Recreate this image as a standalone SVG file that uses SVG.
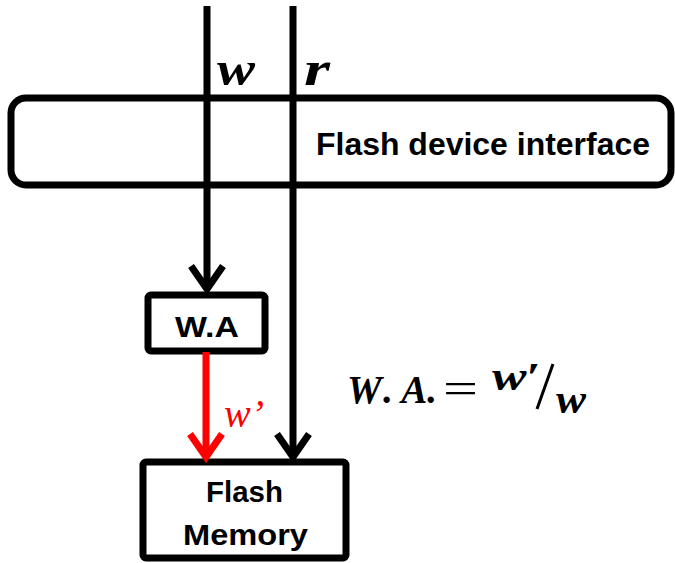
<svg xmlns="http://www.w3.org/2000/svg" width="675" height="563" viewBox="0 0 675 563">
<style>
.box{fill:#fff;stroke:#000;stroke-width:7}
.ln{stroke:#000;stroke-width:7;fill:none}
.lbl{font-family:"Liberation Sans",Arial,sans-serif;font-weight:bold;fill:#000}
.math{font-family:"Liberation Serif","DejaVu Serif",serif;font-weight:bold;font-style:italic;fill:#000}
</style>
<g id="interface">
<rect class="box" x="11" y="98" width="660" height="87" rx="15"/>
<text class="lbl" x="316" y="155" font-size="32" textLength="334" lengthAdjust="spacingAndGlyphs">Flash device interface</text>
</g>
<g id="wa">
<rect class="box" x="148" y="295" width="117" height="56" rx="3" stroke-width="6"/>
<text class="lbl" x="175" y="337" font-size="30" textLength="64" lengthAdjust="spacingAndGlyphs">W.A</text>
</g>
<g id="flash">
<rect class="box" x="143" y="462" width="203" height="96" rx="3" stroke-width="6"/>
<text class="lbl" x="206" y="502" font-size="30" textLength="77" lengthAdjust="spacingAndGlyphs">Flash</text>
<text class="lbl" x="183" y="545" font-size="30" textLength="125" lengthAdjust="spacingAndGlyphs">Memory</text>
</g>
<g id="connectors">
<line class="ln" x1="207" y1="6" x2="207" y2="290"/>
<polyline class="ln" points="191,266 207,289 223,266"/>
<line class="ln" x1="293" y1="6" x2="293" y2="457"/>
<polyline class="ln" points="277,434 293,457 309,434"/>
<line x1="206" y1="352" x2="206" y2="457" stroke="#f00" stroke-width="7"/>
<polyline points="190,434 206,457 222,434" fill="none" stroke="#f00" stroke-width="7"/>
</g>
<g id="labels">
<text class="math" x="217" y="85" font-size="48" textLength="38" lengthAdjust="spacingAndGlyphs">w</text>
<text class="math" x="304" y="85" font-size="48" textLength="26" lengthAdjust="spacingAndGlyphs">r</text>
<text x="224" y="427" font-size="40" font-family="Liberation Serif,serif" font-style="italic" fill="#f00">w’</text>
<text class="math" x="347" y="403" font-size="40" textLength="90" lengthAdjust="spacingAndGlyphs">W<tspan font-style="normal">. </tspan>A.</text>
<text x="443" y="403" font-size="44" font-family="Liberation Serif,serif" fill="#000" textLength="35" lengthAdjust="spacingAndGlyphs">=</text>
<text class="math" x="492" y="390" font-size="40" textLength="49" lengthAdjust="spacingAndGlyphs">w<tspan font-style="normal">′</tspan></text>
<line x1="537" y1="409" x2="553" y2="364" stroke="#000" stroke-width="3"/>
<text class="math" x="556" y="413" font-size="42" textLength="30" lengthAdjust="spacingAndGlyphs">w</text>
</g>
</svg>
